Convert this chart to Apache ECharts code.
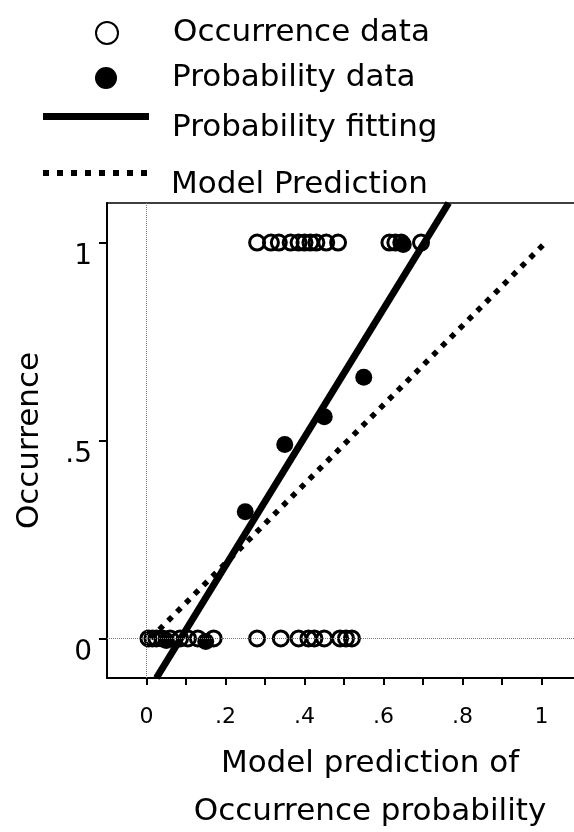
<!DOCTYPE html>
<html>
<head>
<meta charset="utf-8">
<script src="https://cdn.jsdelivr.net/npm/echarts@6/dist/echarts.min.js"></script>
<style>
  html, body { margin: 0; padding: 0; background: #fff; }
  #chart { width: 574px; height: 832px; }
</style>
</head>
<body>
<div id="chart"></div>
<script>
// Observed occurrences (presence = 1, absence = 0) against model prediction
const presenceX = [0.28, 0.315, 0.335, 0.365, 0.385, 0.40, 0.415, 0.43, 0.455, 0.485, 0.615, 0.63, 0.645, 0.695];
const absenceX = [0.005, 0.015, 0.025, 0.04, 0.06, 0.085, 0.105, 0.13, 0.17, 0.28, 0.34, 0.385, 0.41, 0.425, 0.45, 0.49, 0.505, 0.52];

// Observed probability per prediction bin
const probX = [0.05, 0.15, 0.25, 0.35, 0.45, 0.55, 0.65];
const probY = [-0.005, -0.008, 0.32, 0.49, 0.56, 0.66, 0.995];

// Fitted probability line and the 1:1 model prediction line (end points)
const fitX = [0.025, 0.765];
const fitY = [-0.1, 1.1];
const modelX = [0.01, 1.01];
const modelY = [0.0, 1.0];

// Axis ticks and labels
const xTickValues = [0, 0.1, 0.2, 0.3, 0.4, 0.5, 0.6, 0.7, 0.8, 0.9, 1.0];
const xLabelValues = [0, 0.2, 0.4, 0.6, 0.8, 1.0];
const xLabelTexts = ['0', '.2', '.4', '.6', '.8', '1'];
const yTickValues = [0, 0.5, 1];
const yLabelTexts = ['0', '.5', '1'];

const FONT = 'DejaVu Sans';

// Legend keys for the two lines: the stroke sits in the upper part of a
// 106x30 box so the key line runs a little above the middle of its text.
const SOLID_KEY = 'path://M0,30M0,0H106V7H0Z';
const DOTTED_KEY = 'path://M0,30M0,0h6v6h-6zM14,0h6v6h-6zM28,0h6v6h-6zM42,0h6v6h-6zM56,0h6v6h-6zM70,0h6v6h-6zM84,0h6v6h-6zM98,0h6v6h-6z';

function labelFor(values, texts) {
  return function (v) {
    for (let i = 0; i < values.length; i++) {
      if (Math.abs(values[i] - v) < 1e-6) return texts[i];
    }
    return '';
  };
}

const occurrenceData = presenceX.map(x => [x, 1]).concat(absenceX.map(x => [x, 0]));
const probData = probX.map((x, i) => [x, probY[i]]);
const fitData = fitX.map((x, i) => [x, fitY[i]]);
const modelData = modelX.map((x, i) => [x, modelY[i]]);

const legendText = {
  fontFamily: FONT,
  fontSize: 31,
  color: '#000',
  lineHeight: 36
};

const chart = echarts.init(document.getElementById('chart'), null, { renderer: 'canvas' });

chart.setOption({
  animation: false,
  backgroundColor: '#fff',
  grid: {
    left: 107, top: 203, right: -7, bottom: 154,
    outerBoundsMode: 'none',
    containLabel: false,
    show: true, borderColor: '#000', borderWidth: 1.5, backgroundColor: 'transparent'
  },
  legend: [
    {
      data: ['Occurrence data'], left: 95, top: 15, padding: 0,
      itemWidth: 106, itemHeight: 22, selectedMode: false,
      textStyle: Object.assign({}, legendText, { padding: [0, 0, 0, 8] })
    },
    {
      data: ['Probability data'], left: 95, top: 60, padding: 0,
      itemWidth: 106, itemHeight: 22, selectedMode: false,
      textStyle: Object.assign({}, legendText, { padding: [0, 0, 0, 8] })
    },
    {
      data: [{ name: 'Probability fitting', icon: SOLID_KEY }], left: 43, top: 110, padding: 0,
      itemWidth: 106, itemHeight: 30, selectedMode: false,
      textStyle: Object.assign({}, legendText, { padding: [0, 0, 0, 18] })
    },
    {
      data: [{ name: 'Model Prediction', icon: DOTTED_KEY }], left: 43, top: 167, padding: 0,
      itemWidth: 106, itemHeight: 30, selectedMode: false,
      textStyle: Object.assign({}, legendText, { padding: [0, 0, 0, 18] })
    }
  ],
  xAxis: {
    type: 'value', min: -0.1, max: 1.1,
    name: 'Model prediction of\nOccurrence probability',
    nameLocation: 'middle', nameGap: 62,
    nameTextStyle: { fontFamily: FONT, fontSize: 31, color: '#000', lineHeight: 48, padding: [0, 0, 0, 52] },
    axisLine: { onZero: false, lineStyle: { color: '#000', width: 2 } },
    axisTick: { show: true, length: 7, customValues: xTickValues, lineStyle: { color: '#000', width: 2 } },
    axisLabel: {
      customValues: xLabelValues, formatter: labelFor(xLabelValues, xLabelTexts),
      fontFamily: FONT, fontSize: 22, color: '#000', margin: 28
    },
    splitLine: { show: false }
  },
  yAxis: {
    type: 'value', min: -0.1, max: 1.1,
    name: 'Occurrence', nameLocation: 'middle', nameRotate: 90, nameGap: 62,
    nameTextStyle: { fontFamily: FONT, fontSize: 31, color: '#000' },
    axisLine: { onZero: false, lineStyle: { color: '#000', width: 2 } },
    axisTick: { show: true, length: 8, customValues: yTickValues, lineStyle: { color: '#000', width: 2 } },
    axisLabel: {
      customValues: yTickValues, formatter: labelFor(yTickValues, yLabelTexts),
      fontFamily: FONT, fontSize: 28, color: '#000', margin: 15, verticalAlign: 'top'
    },
    splitLine: { show: false }
  },
  series: [
    {
      name: 'Occurrence data',
      type: 'scatter',
      symbol: 'circle',
      symbolSize: 15,
      data: occurrenceData,
      itemStyle: { color: 'rgba(0,0,0,0)', borderColor: '#000', borderWidth: 3, opacity: 1 },
      z: 2,
      markLine: {
        silent: true,
        symbol: 'none',
        label: { show: false },
        lineStyle: { color: '#777', width: 1, type: [1, 1] },
        data: [{ xAxis: 0 }, { yAxis: 0 }]
      }
    },
    {
      name: 'Probability data',
      type: 'scatter',
      symbol: 'circle',
      symbolSize: 17,
      data: probData,
      itemStyle: { color: '#000', opacity: 1 },
      z: 3
    },
    {
      name: 'Probability fitting',
      type: 'line',
      symbol: 'none',
      data: fitData,
      clip: true,
      lineStyle: { color: '#000', width: 7, cap: 'butt' },
      itemStyle: { color: '#000' },
      z: 4
    },
    {
      name: 'Model Prediction',
      type: 'line',
      symbol: 'none',
      data: modelData,
      clip: true,
      lineStyle: { color: '#000', width: 5.5, type: [5.5, 7], cap: 'butt' },
      itemStyle: { color: '#000' },
      z: 4
    }
  ]
});
</script>
</body>
</html>
